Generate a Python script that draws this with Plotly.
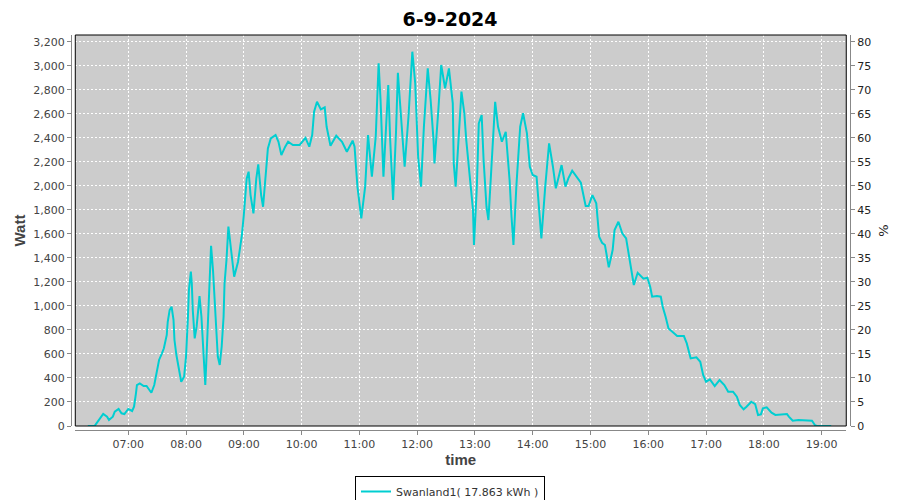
import plotly.graph_objects as go

DAY = "2024-09-06"
times = [
    "06:18", "06:25", "06:27", "06:31", "06:34", "06:38", "06:40", "06:44", "06:46", "06:50",
    "06:53", "06:56", "07:00", "07:04", "07:06", "07:08", "07:09", "07:12", "07:16", "07:19",
    "07:22", "07:24", "07:27", "07:30", "07:32", "07:35", "07:37", "07:40", "07:41", "07:43",
    "07:45", "07:47", "07:48", "07:50", "07:53", "07:55", "07:58", "08:00", "08:02", "08:03",
    "08:05", "08:06", "08:07", "08:09", "08:11", "08:13", "08:14", "08:16", "08:18", "08:20",
    "08:21", "08:23", "08:25", "08:26", "08:28", "08:30", "08:32", "08:33", "08:35", "08:37",
    "08:39", "08:40", "08:42", "08:44", "08:47", "08:50", "08:54", "08:58", "09:00", "09:03",
    "09:05", "09:07", "09:10", "09:13", "09:15", "09:18", "09:20", "09:23", "09:25", "09:28",
    "09:33", "09:36", "09:39", "09:43", "09:46", "09:51", "09:58", "10:04", "10:08", "10:11",
    "10:13", "10:16", "10:20", "10:24", "10:26", "10:30", "10:36", "10:42", "10:47", "10:53",
    "10:55", "10:58", "11:02", "11:06", "11:09", "11:13", "11:17", "11:20", "11:22", "11:25",
    "11:28", "11:30", "11:32", "11:35", "11:38", "11:40", "11:44", "11:47", "11:51", "11:55",
    "11:58", "12:01", "12:04", "12:07", "12:11", "12:14", "12:17", "12:18", "12:22", "12:25",
    "12:29", "12:33", "12:37", "12:38", "12:40", "12:44", "12:46", "12:49", "12:51", "12:55",
    "12:58", "12:59", "13:02", "13:04", "13:07", "13:09", "13:12", "13:14", "13:17", "13:21",
    "13:24", "13:28", "13:32", "13:36", "13:38", "13:40", "13:43", "13:47", "13:50", "13:54",
    "13:57", "14:00", "14:04", "14:07", "14:09", "14:13", "14:17", "14:21", "14:24", "14:27",
    "14:30", "14:34", "14:37", "14:41", "14:46", "14:50", "14:55", "14:58", "15:02", "15:06",
    "15:09", "15:12", "15:15", "15:17", "15:19", "15:23", "15:25", "15:29", "15:33", "15:37",
    "15:40", "15:43", "15:45", "15:49", "15:55", "15:59", "16:02", "16:04", "16:09", "16:13",
    "16:15", "16:18", "16:21", "16:25", "16:30", "16:37", "16:40", "16:44", "16:50", "16:54",
    "16:57", "17:00", "17:04", "17:09", "17:14", "17:19", "17:23", "17:28", "17:32", "17:35",
    "17:39", "17:42", "17:47", "17:51", "17:54", "17:57", "17:59", "18:03", "18:08", "18:12",
    "18:18", "18:24", "18:26", "18:30", "18:36", "18:44", "18:50", "18:53", "18:55", "19:10",
]
watt = [
    0, 0, 22, 64, 100, 78, 50, 78, 119, 142,
    106, 100, 142, 125, 161, 272, 341, 355, 333, 333,
    294, 277, 341, 466, 550, 605, 647, 758, 868, 966,
    993, 883, 716, 591, 439, 369, 411, 577, 910, 1132,
    1285, 1188, 966, 730, 827, 993, 1082, 910, 577, 341,
    522, 910, 1299, 1500, 1299, 1049, 743, 577, 508, 660,
    910, 1188, 1382, 1660, 1451, 1243, 1368, 1590, 1757, 2062,
    2118, 1923, 1771, 2062, 2179, 1923, 1826, 2090, 2312, 2395,
    2423, 2367, 2256, 2326, 2367, 2340, 2340, 2400, 2326, 2423,
    2617, 2700, 2637, 2653, 2492, 2334, 2417, 2367, 2284, 2376,
    2326, 1993, 1730, 1993, 2423, 2076, 2409, 3020, 2714, 2076,
    2575, 2839, 2381, 1882, 2437, 2942, 2492, 2159, 2575, 3117,
    2853, 2242, 1993, 2492, 2978, 2714, 2381, 2187, 2631, 3006,
    2812, 2978, 2687, 2187, 1993, 2465, 2784, 2604, 2381, 2048,
    1798, 1507, 1993, 2520, 2590, 2215, 1826, 1715, 2159, 2700,
    2492, 2367, 2450, 2048, 1743, 1507, 1993, 2492, 2604, 2437,
    2159, 2090, 2076, 1771, 1563, 1993, 2354, 2159, 1979, 2076,
    2173, 1993, 2062, 2126, 2076, 2026, 1832, 1832, 1923, 1854,
    1576, 1526, 1507, 1410, 1321, 1465, 1632, 1701, 1604, 1563,
    1410, 1243, 1174, 1276, 1227, 1235, 1160, 1077, 1082, 1077,
    993, 910, 813, 785, 749, 749, 688, 563, 572, 535,
    425, 369, 389, 333, 383, 341, 286, 286, 244, 175,
    139, 161, 202, 183, 92, 97, 147, 156, 111, 92,
    97, 100, 78, 44, 50, 50, 44, 8, 0, 0,
]
series_name = "Swanland1( 17.863 kWh )"
chart_title = "6-9-2024"
hour_ticks = ["07:00", "08:00", "09:00", "10:00", "11:00", "12:00", "13:00",
              "14:00", "15:00", "16:00", "17:00", "18:00", "19:00"]

x_vals = [f"{DAY} {t}" for t in times]

fig = go.Figure()
fig.add_trace(go.Scatter(
    x=x_vals, y=watt, mode="lines", name=series_name,
    line=dict(color="#00CED1", width=2),
))
# invisible trace to activate the right axis
fig.add_trace(go.Scatter(x=[x_vals[0]], y=[0], yaxis="y2", mode="lines",
                         showlegend=False, hoverinfo="skip",
                         line=dict(color="rgba(0,0,0,0)")))

tick_font = dict(family="DejaVu Sans", size=11, color="#444444")
label_font = dict(family="Liberation Sans", size=15, color="#444444")

W, H = 892, 492  # the page adds an 8px body margin

fig.update_layout(
    width=W, height=H,
    margin=dict(l=63, r=50, t=27, b=70, autoexpand=False),
    paper_bgcolor="white",
    plot_bgcolor="#CCCCCC",
    title=dict(text="<b>" + chart_title + "</b>", x=442 / W, xref="container", xanchor="center",
               y=1 - 11 / H, yref="container", yanchor="middle",
               font=dict(family="DejaVu Sans", size=19, color="black")),
    xaxis=dict(
        type="date",
        domain=[0.0055, 0.9952],
        anchor="free", position=0, automargin=False,
        range=[f"{DAY} 06:05:00", f"{DAY} 19:25:36"],
        tickvals=[f"{DAY} {h}" for h in hour_ticks],
        ticktext=hour_ticks,
        ticks="outside", ticklen=4, tickcolor="#888888",
        showline=True, linecolor="#888888", linewidth=1,
        showgrid=True, gridcolor="white", gridwidth=1, griddash="2px,2px",
        tickfont=tick_font,
        title=dict(text="<b>time</b>", font=label_font, standoff=3),
        zeroline=False,
    ),
    yaxis=dict(
        domain=[0.0101, 1],
        anchor="free", position=0, automargin=False,
        range=[0, 3256],
        dtick=200, tick0=0, tickformat=",d",
        ticks="outside", ticklen=4, tickcolor="#888888",
        showline=True, linecolor="#888888", linewidth=1,
        showgrid=True, gridcolor="white", gridwidth=1, griddash="2px,2px",
        tickfont=tick_font,
        title=dict(text="<b>Watt</b>", font=label_font, standoff=3),
        zeroline=False,
    ),
    yaxis2=dict(
        overlaying="y", side="right",
        anchor="free", position=1, automargin=False,
        range=[0, 81.4],
        dtick=5, tick0=0,
        ticks="outside", ticklen=4, tickcolor="#888888",
        showline=True, linecolor="#888888", linewidth=1,
        showgrid=False, zeroline=False,
        tickfont=dict(family="DejaVu Sans", size=11, color="#222222"),
        title=dict(text="%", font=dict(family="DejaVu Sans", size=13, color="#222222"), standoff=8),
    ),
    showlegend=True,
    legend=dict(
        orientation="h", xref="container", yref="container",
        x=442 / W, xanchor="center", y=1 - 468 / H, yanchor="top",
        bordercolor="black", borderwidth=1, bgcolor="white",
        font=dict(family="DejaVu Sans", size=11, color="#333333"),
        itemwidth=30, tracegroupgap=0,
    ),
    shapes=[dict(type="rect", xref="x domain", yref="y domain",
                 x0=0, x1=1, y0=0, y1=1, line=dict(color="black", width=1),
                 fillcolor="rgba(0,0,0,0)", layer="above")],
)

fig.write_html("out.html")
